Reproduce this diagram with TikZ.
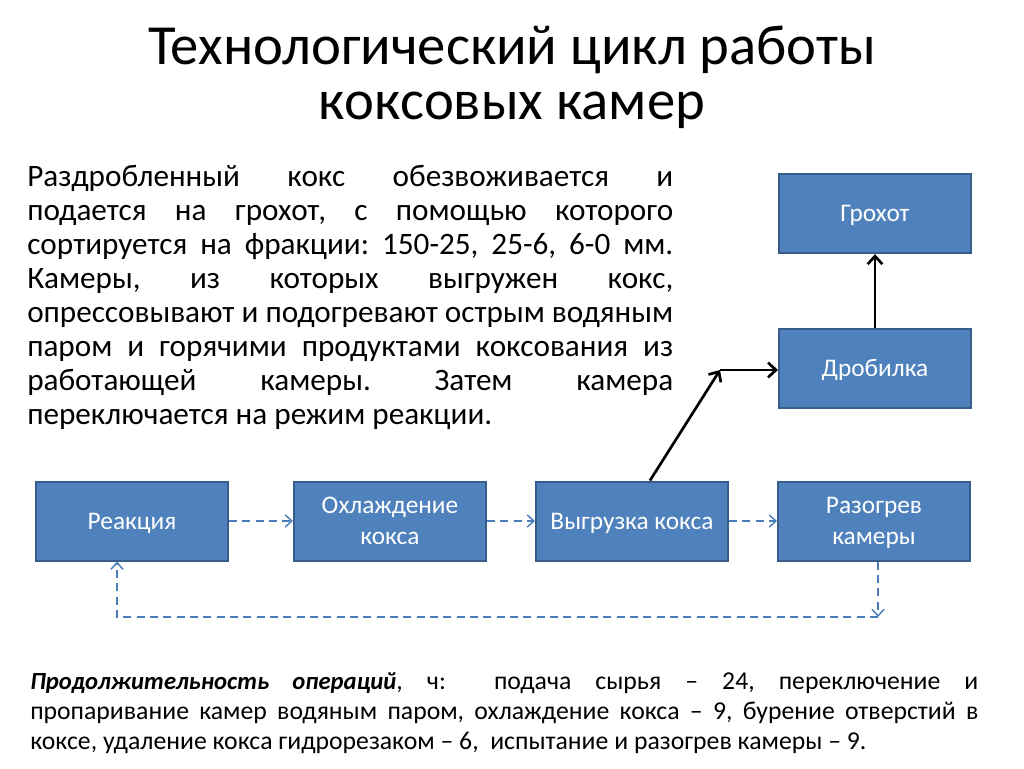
\documentclass[tikz,border=0pt]{standalone}
\usepackage{fontspec}
\setmainfont{Carlito}
\usetikzlibrary{positioning, arrows.meta}
\definecolor{box_fill}{HTML}{4F81BD}
\definecolor{box_edge}{HTML}{385D8A}
\definecolor{loop_line}{HTML}{4A7EBB}
\frenchspacing

\begin{document}
\begin{tikzpicture}[x=0.75pt, y=-0.75pt,
                    stage/.style={rectangle, draw=box_edge, fill=box_fill, line width=1.5pt,
                                  minimum width=144pt, minimum height=59.25pt, inner sep=2pt,
                                  text depth=0pt,
                                  text=white, align=center, font=\fontsize{19}{23}\selectfont},
                    cycle/.style={-{Straight Barb[length=5pt, width=9pt]}, loop_line, line width=1.1pt,
                                  dash pattern=on 6pt off 4pt},
                    flow/.style={-{Straight Barb[length=6pt, width=11pt]}, black, line width=2pt}]

  \useasboundingbox (0,0) rectangle (1024,768);

  % Title and description
  \node[align=center, font=\fontsize{42.5}{41.5}\selectfont] (title) at (512,77) {Технологический цикл работы\\коксовых камер};
  \node[text width=484.5pt, align=justify, inner sep=0pt, font=\fontsize{23.4}{25.5}\selectfont, anchor=north west] (desc) at (27,165)
    {Раздробленный кокс обезвоживается и\linebreak подается на грохот, с помощью которого\linebreak сортируется на фракции: 150-25, 25-6, 6-0 мм.\linebreak Камеры, из которых выгружен кокс,\linebreak опрессовывают и подогревают острым водяным\linebreak паром и горячими продуктами коксования из\linebreak работающей камеры. Затем камера\linebreak переключается на режим реакции.};

  % Stages
  \node[stage] (reakciya) at (132,521) {Реакция};
  \node[stage] (ohlazhdenie) [right=48pt of reakciya] {Охлаждение\\кокса};
  \node[stage] (vygruzka) [right=36pt of ohlazhdenie] {Выгрузка кокса};
  \node[stage] (razogrev) [right=36pt of vygruzka] {Разогрев\\камеры};
  \node[stage] (drobilka) at (875,368) {Дробилка};
  \node[stage] (grohot) [above=55pt of drobilka] {Грохот};

  % Cycle connections
  \draw[cycle] (reakciya) -- (ohlazhdenie);
  \draw[cycle] (ohlazhdenie) -- (vygruzka);
  \draw[cycle] (vygruzka) -- (razogrev);
  \coordinate (loop_r) at (878,617);
  \coordinate (loop_l) at (117,617);
  \draw[cycle] (razogrev.south -| loop_r) -- (loop_r);
  \draw[cycle] (loop_r) -- (loop_l) -- (reakciya.south -| loop_l);

  % Coke path
  \coordinate (bend) at (720,370);
  \draw[flow] (vygruzka.north -| 650,0) -- (bend);
  \draw[flow] (bend) -- (bend -| drobilka.west);
  \draw[flow] (drobilka) -- (grohot);

  \node[text width=711pt, align=justify, inner sep=0pt, font=\fontsize{19.3}{22.7}\selectfont, anchor=north west] (durations) at (30,672)
    {{\fontsize{18.5}{22.7}\selectfont\textbf{\textit{Продолжительность операций}}}, ч:\ \ подача сырья – 24, переключение и\linebreak пропаривание камер водяным паром, охлаждение кокса – 9, бурение отверстий в\linebreak коксе, удаление кокса гидрорезаком – 6,\ \ испытание и разогрев камеры – 9.};

\end{tikzpicture}
\end{document}
